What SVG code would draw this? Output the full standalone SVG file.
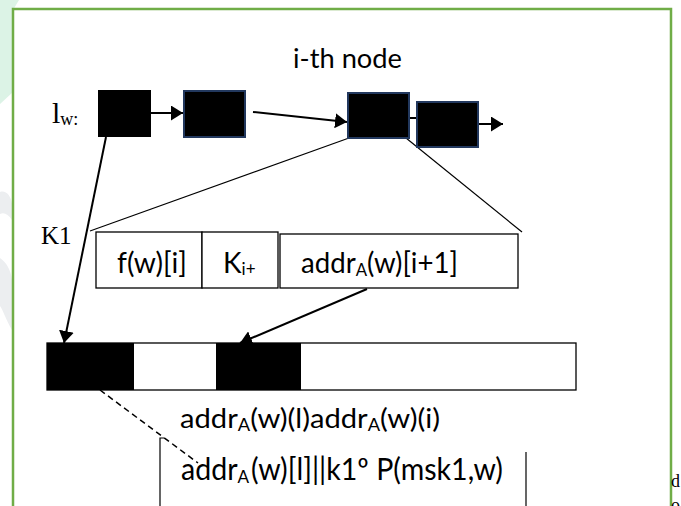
<svg xmlns="http://www.w3.org/2000/svg" width="681" height="506" viewBox="0 0 681 506">
<style>
.t{font-family:Lato,"Liberation Sans",sans-serif;fill:#000}
.s{font-family:"Liberation Serif","Times New Roman",serif;fill:#000}
.blk{fill:#000}
.nv{fill:#000;stroke:#22385e;stroke-width:2}
.cell{fill:#fff;stroke:#000;stroke-width:1.3}
.ln{stroke:#000;stroke-width:2;fill:none}
.thin{stroke:#000;stroke-width:1.2;fill:none}
.dash{stroke:#000;stroke-width:1.5;fill:none;stroke-dasharray:6 4}
</style>
<defs>
<marker id="ah" viewBox="0 0 10 10" refX="10" refY="5" markerWidth="6" markerHeight="7.5" markerUnits="strokeWidth" orient="auto" preserveAspectRatio="none">
<path d="M0,0 L10,5 L0,10 z" fill="#000"/>
</marker>
</defs>
<rect width="681" height="506" fill="#fff"/>
<g id="watermark">
<polygon points="0,0 19,0 13,10 13,92 0,104" fill="#dcf3e6"/>
<path d="M0,192 C6,190 11,196 12,204 L12,220 C8,214 4,212 0,214 Z" fill="#eceef0"/>
<path d="M0,258 C6,262 11,270 12,280 L12,330 C6,320 3,310 0,306 Z" fill="#eceef0"/>
</g>
<path id="frame" d="M13,506 V9 H671 V506" fill="none" stroke="#70ad47" stroke-width="2.5"/>

<g id="connectors">
<line class="ln" x1="151" y1="113" x2="183" y2="113" marker-end="url(#ah)"/>
<line class="ln" x1="253" y1="112" x2="347" y2="122" marker-end="url(#ah)"/>
<line class="ln" x1="409" y1="118" x2="418" y2="118"/>
<line class="ln" x1="478" y1="124" x2="503" y2="124" marker-end="url(#ah)"/>
<line class="ln" x1="106" y1="137" x2="64" y2="343" marker-end="url(#ah)"/>
<line class="thin" x1="349" y1="138" x2="90" y2="231"/>
<line class="thin" x1="406" y1="138" x2="522" y2="232"/>
<line class="ln" x1="367" y1="289" x2="240" y2="343" marker-end="url(#ah)"/>
<line class="dash" x1="100" y1="390" x2="198" y2="463"/>
</g>

<g id="node1"><rect class="blk" x="98" y="90" width="53" height="47"/></g>
<g id="node2"><rect class="nv" x="184" y="91" width="61" height="46"/></g>
<g id="node3"><rect class="nv" x="348" y="93" width="61" height="45"/></g>
<g id="node4"><rect class="nv" x="417" y="102" width="61" height="45"/></g>

<g id="labels">
<text class="t" x="293" y="68" font-size="27" textLength="109" lengthAdjust="spacingAndGlyphs">i-th node</text>
<text class="s" x="52" y="123" font-size="30">l<tspan font-size="18" dy="2">w:</tspan></text>
<text class="s" x="41" y="244" font-size="25">K1</text>
</g>

<g id="record">
<rect class="cell" x="96" y="232" width="106" height="56"/>
<rect class="cell" x="202" y="232" width="76" height="56"/>
<rect class="cell" x="280" y="234" width="238" height="54"/>
<text class="t" x="117" y="273" font-size="28" textLength="70" lengthAdjust="spacingAndGlyphs">f(w)[i]</text>
<text class="t" x="223" y="273" font-size="28">K<tspan font-size="17" dy="2">i+</tspan></text>
<text class="t" x="301" y="273" font-size="28" textLength="157" lengthAdjust="spacingAndGlyphs">addr<tspan font-size="17" dy="3">A</tspan><tspan dy="-3">(w)[i+1]</tspan></text>
</g>

<g id="bar">
<rect class="cell" x="47" y="343" width="529" height="47"/>
<rect class="blk" x="47" y="343" width="87" height="47"/>
<rect class="blk" x="216" y="343" width="85" height="47"/>
</g>

<g id="addresses">
<text class="t" x="180" y="428" font-size="27" textLength="260" lengthAdjust="spacingAndGlyphs">addr<tspan font-size="17" dy="3">A</tspan><tspan dy="-3">(w)(l)addr</tspan><tspan font-size="17" dy="3">A</tspan><tspan dy="-3">(w)(i)</tspan></text>
<path class="thin" d="M164,438 H160 V506"/>
<line class="thin" x1="526" y1="452" x2="526" y2="506"/>
<text class="t" x="181" y="480" font-size="30" textLength="322" lengthAdjust="spacingAndGlyphs">addr<tspan font-size="18" dy="3">A</tspan><tspan dx="2" dy="-3">(w)[l]||k1º P(msk1,w)</tspan></text>
</g>

<g id="edge-text">
<text class="s" x="671" y="487" font-size="18">d</text>
<text class="s" x="671" y="511" font-size="18">o</text>
</g>
</svg>
